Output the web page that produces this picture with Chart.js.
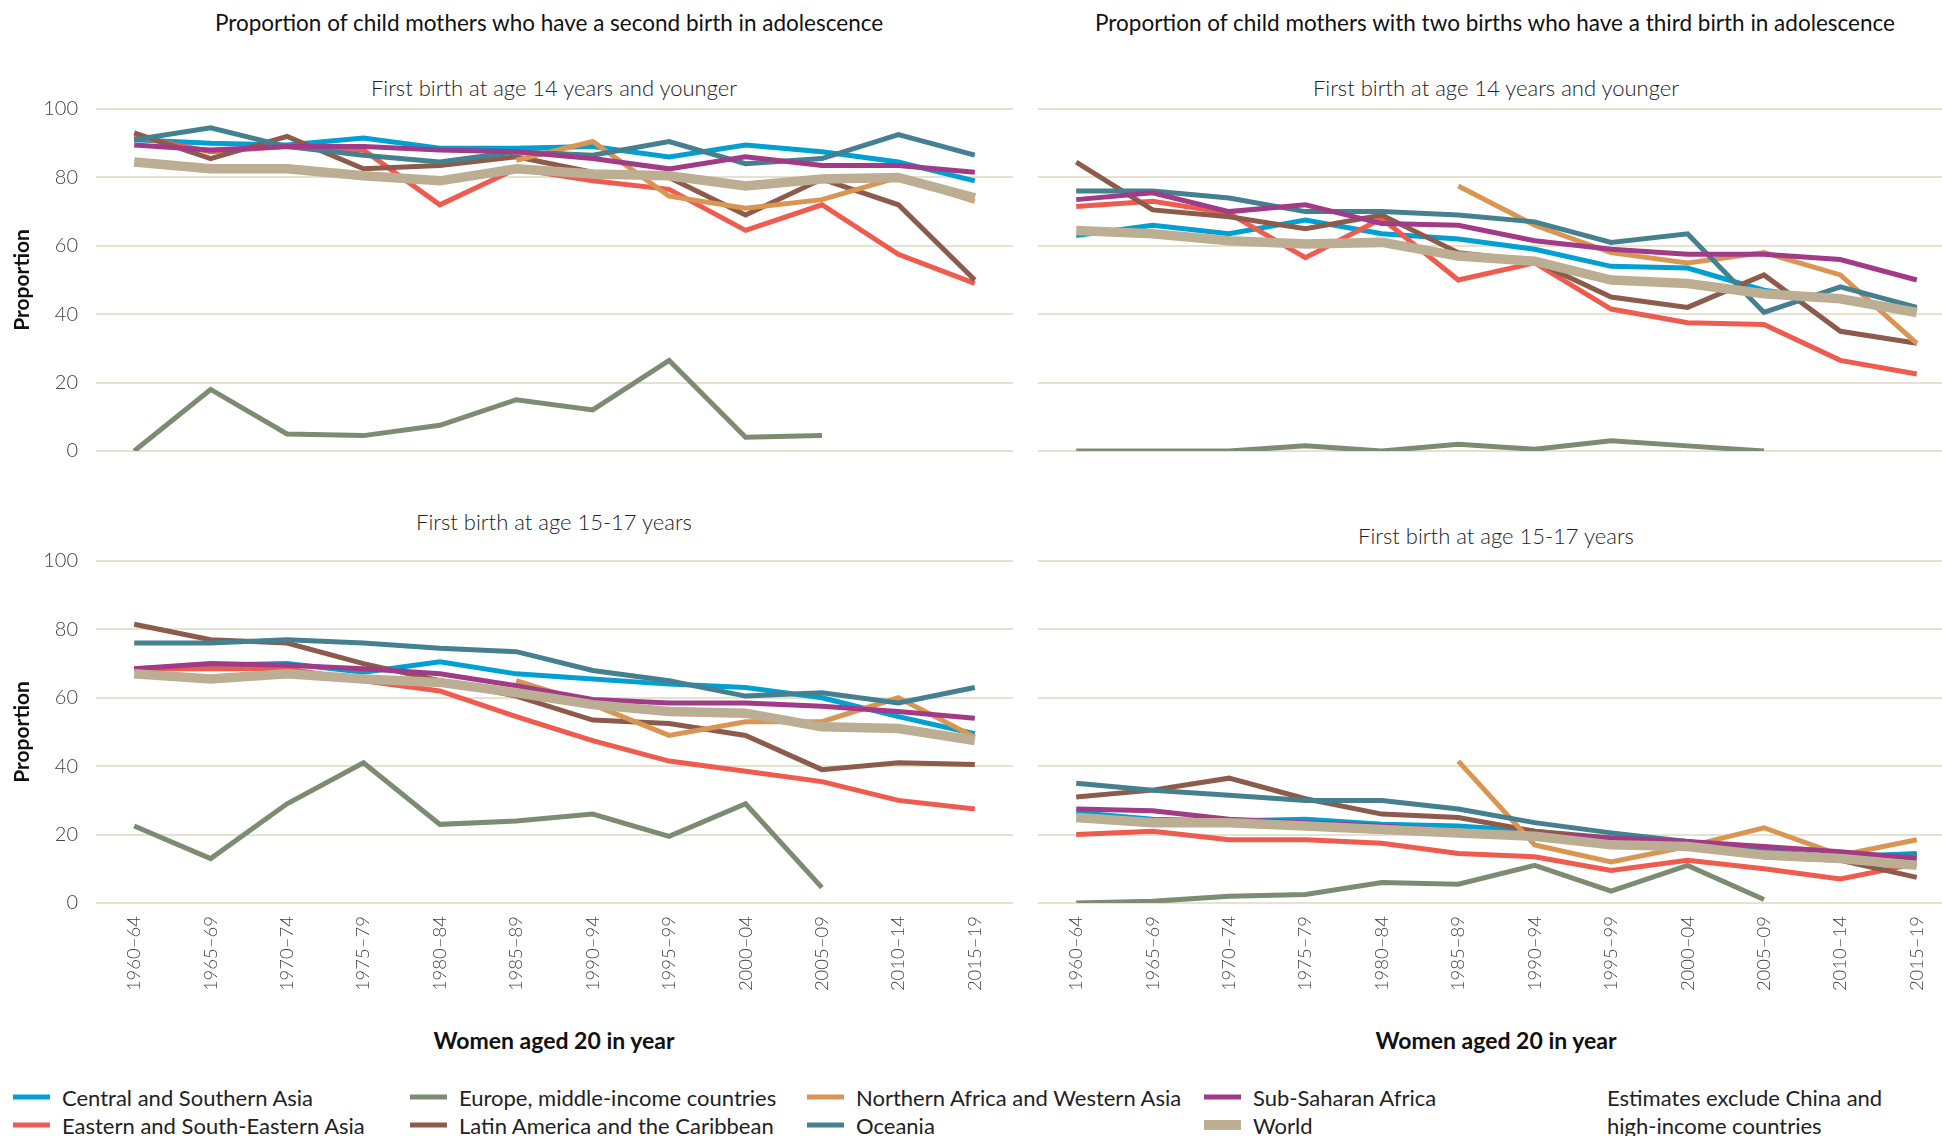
<!DOCTYPE html>
<html>
<head>
<meta charset="utf-8">
<script src="https://cdn.jsdelivr.net/npm/chart.js@4"></script>
<style>
  body { margin: 0; width: 1942px; height: 1136px; overflow: hidden; background: #fff; position: relative; font-family: Lato, sans-serif; color: #222; }
  .box { position: absolute; }
  .txt { position: absolute; white-space: nowrap; transform: translate(-50%, -50%); }
  .main-title { font-size: 22.5px; color: #111; }
  .sub-title { font-size: 22px; font-weight: 300; color: #222; }
  .x-title { font-size: 23px; font-weight: 700; color: #111; }
  .legend-item { position: absolute; white-space: nowrap; font-size: 22px; font-weight: 400; color: #222; transform: translateY(-50%); }
  .swatch { position: absolute; width: 37px; height: 5px; transform: translateY(-50%); }
</style>
</head>
<body>

<div class="txt main-title" style="left:549px; top:22px">Proportion of child mothers who have a second birth in adolescence</div>
<div class="txt main-title" style="left:1495px; top:22px">Proportion of child mothers with two births who have a third birth in adolescence</div>

<div class="txt sub-title" style="left:554px; top:87px">First birth at age 14 years and younger</div>
<div class="txt sub-title" style="left:1496px; top:87px">First birth at age 14 years and younger</div>
<div class="txt sub-title" style="left:554px; top:521px">First birth at age 15-17 years</div>
<div class="txt sub-title" style="left:1496px; top:535px">First birth at age 15-17 years</div>

<div class="box" style="left:0; top:60px"><canvas id="tl" width="1013" height="423"></canvas></div>
<div class="box" style="left:1000px; top:60px"><canvas id="tr" width="955" height="423"></canvas></div>
<div class="box" style="left:0; top:500px"><canvas id="bl" width="1013" height="503"></canvas></div>
<div class="box" style="left:1000px; top:500px"><canvas id="br" width="955" height="503"></canvas></div>

<div class="txt x-title" style="left:554px; top:1040px">Women aged 20 in year</div>
<div class="txt x-title" style="left:1496px; top:1040px">Women aged 20 in year</div>

<div id="legend"></div>
<div class="legend-item" style="left:1607px; top:1097px">Estimates exclude China and</div>
<div class="legend-item" style="left:1607px; top:1125px">high-income countries</div>

<script>
// ─── Data ───────────────────────────────────────────────────

const periods = ['1960–64', '1965–69', '1970–74', '1975–79', '1980–84', '1985–89',
  '1990–94', '1995–99', '2000–04', '2005–09', '2010–14', '2015–19'];

const regions = ['Central and Southern Asia', 'Eastern and South-Eastern Asia',
  'Europe, middle-income countries', 'Latin America and the Caribbean',
  'Northern Africa and Western Asia', 'Oceania', 'Sub-Saharan Africa', 'World'];

// second birth, first birth at 14 and younger
const second14Central = [91, 90, 89.5, 91.5, 88.5, 88.5, 89, 86, 89.5, 87.5, 84.5, 79];
const second14Eastern = [92, 87.5, 89, 88, 72, 82.5, 79, 76.5, 64.5, 72, 57.5, 49];
const second14Europe = [0, 18, 5, 4.5, 7.5, 15, 12, 26.5, 4, 4.5, null, null];
const second14Latin = [93, 85.5, 92, 82.5, 83.5, 86, 81.5, 80, 69, 79.5, 72, 50];
const second14NAfrica = [null, null, null, null, null, 85, 90.5, 74.5, 71, 73.5, 80, 73];
const second14Oceania = [91, 94.5, 89, 86.5, 84.5, 87.5, 86.5, 90.5, 84, 85.5, 92.5, 86.5];
const second14SSA = [89.5, 88, 89, 89, 88, 87.5, 85.5, 82.5, 86, 83.5, 83.5, 81.5];
const second14World = [84.5, 82.5, 82.5, 80.5, 79, 82.5, 81, 80.5, 77.5, 79.5, 80, 74];

// third birth, first birth at 14 and younger
const third14Central = [63, 66, 63.5, 67.5, 63.5, 62, 59, 54, 53.5, 47, 44, 41.5];
const third14Eastern = [71.5, 73, 69.5, 56.5, 68, 50, 55, 41.5, 37.5, 37, 26.5, 22.5];
const third14Europe = [0, 0, 0, 1.5, 0, 2, 0.5, 3, 1.5, 0, null, null];
const third14Latin = [84.5, 70.5, 68.5, 65, 69, 58, 55.5, 45, 42, 51.5, 35, 31.5];
const third14NAfrica = [null, null, null, null, null, 77.5, 66, 58, 55, 58, 51.5, 31.5];
const third14Oceania = [76, 76, 74, 70, 70, 69, 67, 61, 63.5, 40.5, 48, 42];
const third14SSA = [73.5, 75.5, 70, 72, 66.5, 66, 61.5, 59, 57.5, 57.5, 56, 50];
const third14World = [64.5, 63.5, 61.5, 60.5, 61, 57, 55.5, 50, 49, 46, 44.5, 40.5];

// second birth, first birth at 15-17
const second1517Central = [68.5, 69.5, 70, 67.5, 70.5, 67, 65.5, 64, 63, 60, 54.5, 49.5];
const second1517Eastern = [68.5, 68.5, 68.5, 65, 62, 54.5, 47.5, 41.5, 38.5, 35.5, 30, 27.5];
const second1517Europe = [22.5, 13, 29, 41, 23, 24, 26, 19.5, 29, 4.5, null, null];
const second1517Latin = [81.5, 77, 76, 70, 65, 60.5, 53.5, 52.5, 49, 39, 41, 40.5];
const second1517NAfrica = [null, null, null, null, null, 65, 58, 49, 53, 53, 60, 48.5];
const second1517Oceania = [76, 76, 77, 76, 74.5, 73.5, 68, 65, 60.5, 61.5, 58.5, 63];
const second1517SSA = [68.5, 70, 69.5, 68.5, 67, 63.5, 59.5, 58.5, 58.5, 57.5, 56, 54];
const second1517World = [67, 65.5, 67, 65.5, 64.5, 61.5, 58, 56, 55.5, 51.5, 51, 47.5];

// third birth, first birth at 15-17
const third1517Central = [26.5, 24.5, 24, 24.5, 23, 22.5, 21, 18.5, 17.5, 15, 13.5, 14.5];
const third1517Eastern = [20, 21, 18.5, 18.5, 17.5, 14.5, 13.5, 9.5, 12.5, 10, 7, 11.5];
const third1517Europe = [0, 0.5, 2, 2.5, 6, 5.5, 11, 3.5, 11, 1, null, null];
const third1517Latin = [31, 33, 36.5, 30.5, 26, 25, 21, 19, 18, 13.5, 12.5, 7.5];
const third1517NAfrica = [null, null, null, null, null, 41.5, 17, 12, 16.5, 22, 14, 18.5];
const third1517Oceania = [35, 33, 31.5, 30, 30, 27.5, 23.5, 20.5, 18, 15.5, 13, 14];
const third1517SSA = [27.5, 27, 24.5, 23.5, 22.5, 21, 20, 19, 18, 16.5, 15, 13];
const third1517World = [25, 23.5, 23.5, 22.5, 21.5, 20.5, 19.5, 17, 16.5, 14, 13, 11];

// ─── Styles ─────────────────────────────────────────────────

const REGION_COLORS = ['#00a0d2', '#ee5b4f', '#7b8c72', '#8c5b4b', '#d99652', '#44808f', '#a13b88', '#bcae93'];
const GRID_COLOR = '#e4e3d1';

// ─── Panels ─────────────────────────────────────────────────

function makePanel(id, series, { left, bottom }) {
  const canvas = document.getElementById(id);
  return new Chart(canvas, {
    type: 'line',
    data: {
      labels: periods,
      datasets: series.map((d, i) => ({
        label: regions[i],
        data: d,
        borderColor: REGION_COLORS[i],
        borderWidth: i === 7 ? 9.5 : 5,
        pointRadius: 0,
        tension: 0,
        fill: false,
        order: -i,
      })),
    },
    options: {
      responsive: false,
      animation: false,
      devicePixelRatio: 1,
      // top panels need room below for the "0" label overflow
      layout: { padding: { top: bottom ? 61 : 49, bottom: bottom ? 0 : 32, left: 0, right: 0 } },
      plugins: { legend: { display: false }, tooltip: { enabled: false } },
      scales: {
        x: {
          display: bottom,
          offset: true,
          grid: { display: false, drawTicks: false },
          border: { display: false },
          ticks: {
            autoSkip: false, minRotation: 90, maxRotation: 90, padding: 13,
            color: '#444', font: { family: 'Lato', weight: 300, size: 18.5 },
          },
          afterFit: s => { s.height = bottom ? 100 : 0; },
        },
        y: {
          min: 0,
          max: 100,
          grid: { color: GRID_COLOR, lineWidth: 2, drawTicks: false },
          border: { display: false },
          ticks: {
            display: left, stepSize: 20, padding: 18,
            color: '#444', font: { family: 'Lato', weight: 300, size: 20 },
          },
          title: {
            display: left, text: 'Proportion', color: '#111',
            font: { family: 'Lato', weight: 'bold', size: 21 },
            padding: { top: 10, bottom: 0 },
          },
          afterFit: s => { s.width = left ? 96 : 38; },
        },
      },
    },
  });
}

function renderLegend() {
  const el = document.getElementById('legend');
  const cols = [13, 410, 807, 1204];
  const rows = [1097, 1125];
  el.innerHTML = regions.map((name, i) => {
    const x = cols[Math.floor(i / 2)];
    const y = rows[i % 2];
    const h = i === 7 ? 10 : 5;
    return `<div class="swatch" style="left:${x}px; top:${y}px; height:${h}px; background:${REGION_COLORS[i]}"></div>
      <div class="legend-item" style="left:${x + 49}px; top:${y}px">${name}</div>`;
  }).join('');
}

makePanel('tl', [second14Central, second14Eastern, second14Europe, second14Latin,
  second14NAfrica, second14Oceania, second14SSA, second14World], { left: true, bottom: false });
makePanel('tr', [third14Central, third14Eastern, third14Europe, third14Latin,
  third14NAfrica, third14Oceania, third14SSA, third14World], { left: false, bottom: false });
makePanel('bl', [second1517Central, second1517Eastern, second1517Europe, second1517Latin,
  second1517NAfrica, second1517Oceania, second1517SSA, second1517World], { left: true, bottom: true });
makePanel('br', [third1517Central, third1517Eastern, third1517Europe, third1517Latin,
  third1517NAfrica, third1517Oceania, third1517SSA, third1517World], { left: false, bottom: true });
renderLegend();
</script>
</body>
</html>
